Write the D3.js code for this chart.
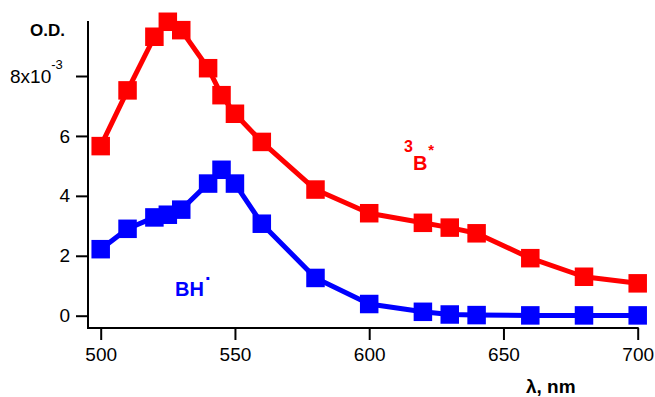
<!DOCTYPE html>
<html>
<head>
<meta charset="utf-8">
<script src="https://cdn.jsdelivr.net/npm/d3@7"></script>
<style>
  body { margin: 0; background: #fff; }
  svg { display: block; font-family: "Liberation Sans", Arial, sans-serif; }
</style>
</head>
<body>
<div id="chart"></div>
<script>
// wavelength, nm
const wavelengths = [500, 510, 520, 525, 530, 540, 545, 550, 560, 580, 600, 620, 630, 640, 660, 680, 700];
// O.D. in units of 1e-3
const tripletOD = [5.66, 7.52, 9.31, 9.81, 9.53, 8.26, 7.36, 6.74, 5.8, 4.21, 3.42, 3.1, 2.94, 2.75, 1.92, 1.3, 1.08];
const radicalOD = [2.22, 2.9, 3.28, 3.37, 3.54, 4.41, 4.87, 4.41, 3.07, 1.26, 0.39, 0.13, 0.04, 0.02, 0.01, 0.01, 0.01];
const xTicks = [500, 550, 600, 650, 700];
const yTicks = [0, 2, 4, 6, 8];

const width = 655, height = 397;
const svg = d3.select("#chart").append("svg")
    .attr("width", width)
    .attr("height", height);

const x = d3.scaleLinear().domain([500, 700]).range([100.7, 637.7]);
const y = d3.scaleLinear().domain([0, 8]).range([315.7, 76]);

const axisLeftX = 88, axisBottomY = 328, axisTop = 21;

// axes
const xAxis = svg.append("g")
    .attr("transform", `translate(0,${axisBottomY})`)
    .call(d3.axisBottom(x).tickValues(xTicks).tickSize(12).tickSizeOuter(0).tickPadding(8));
xAxis.select(".domain").remove();
xAxis.selectAll(".tick line").attr("stroke", "#000").attr("stroke-width", 2);
xAxis.selectAll(".tick text")
    .attr("font-size", 19)
    .attr("font-family", "Liberation Sans, Arial, sans-serif")
    .attr("fill", "#000");

const yAxis = svg.append("g")
    .attr("transform", `translate(${axisLeftX},0)`)
    .call(d3.axisLeft(y).tickValues(yTicks).tickSize(12).tickSizeOuter(0).tickPadding(6)
        .tickFormat(d => d === 8 ? "" : d));
yAxis.select(".domain").remove();
yAxis.selectAll(".tick line").attr("stroke", "#000").attr("stroke-width", 2);
yAxis.selectAll(".tick text")
    .attr("font-size", 19)
    .attr("font-family", "Liberation Sans, Arial, sans-serif")
    .attr("fill", "#000");

// 8x10^-3 label on the top tick
const topLabel = svg.append("text")
    .attr("x", 10)
    .attr("y", y(8) + 7)
    .attr("font-size", 19)
    .attr("fill", "#000");
topLabel.append("tspan").text("8x10");
topLabel.append("tspan").attr("font-size", 13).attr("dy", -14).text("-3");

svg.append("line")
    .attr("x1", axisLeftX).attr("x2", axisLeftX)
    .attr("y1", axisTop).attr("y2", axisBottomY + 1)
    .attr("stroke", "#000").attr("stroke-width", 2);
svg.append("line")
    .attr("x1", axisLeftX - 1).attr("x2", x(700) + 1)
    .attr("y1", axisBottomY).attr("y2", axisBottomY)
    .attr("stroke", "#000").attr("stroke-width", 2);

svg.append("text")
    .attr("x", 65).attr("y", 36)
    .attr("text-anchor", "end")
    .attr("font-size", 17).attr("font-weight", "bold")
    .text("O.D.");

svg.append("text")
    .attr("x", 526).attr("y", 393)
    .attr("font-size", 19).attr("font-weight", "bold")
    .text("λ, nm");

// series
const series = [
    { values: radicalOD, color: "#0000ff" },
    { values: tripletOD, color: "#ff0000" }
];
const line = d3.line().x(d => x(d[0])).y(d => y(d[1]));
const sq = 18.5;

series.forEach(s => {
    const pts = wavelengths.map((w, i) => [w, s.values[i]]);
    svg.append("path")
        .datum(pts)
        .attr("d", line)
        .attr("fill", "none")
        .attr("stroke", s.color)
        .attr("stroke-width", 5)
        .attr("stroke-linejoin", "round");
    svg.append("g").selectAll("rect")
        .data(pts)
        .join("rect")
        .attr("x", d => x(d[0]) - sq / 2)
        .attr("y", d => y(d[1]) - sq / 2)
        .attr("width", sq)
        .attr("height", sq)
        .attr("fill", s.color);
});

// labels
const tLabel = svg.append("text")
    .attr("x", 404).attr("y", 170)
    .attr("font-weight", "bold")
    .attr("fill", "#ff0000");
tLabel.append("tspan").attr("font-size", 16).attr("dy", -18).text("3");
tLabel.append("tspan").attr("font-size", 20).attr("dy", 18).text("B");
tLabel.append("tspan").attr("font-size", 15).attr("dy", -15).attr("dx", 1).text("*");

const rLabel = svg.append("text")
    .attr("x", 175).attr("y", 296)
    .attr("font-weight", "bold")
    .attr("fill", "#0000ff");
rLabel.append("tspan").attr("font-size", 20).text("BH");
rLabel.append("tspan").attr("font-size", 20).attr("dy", -16).attr("dx", 1).text(".");
</script>
</body>
</html>
